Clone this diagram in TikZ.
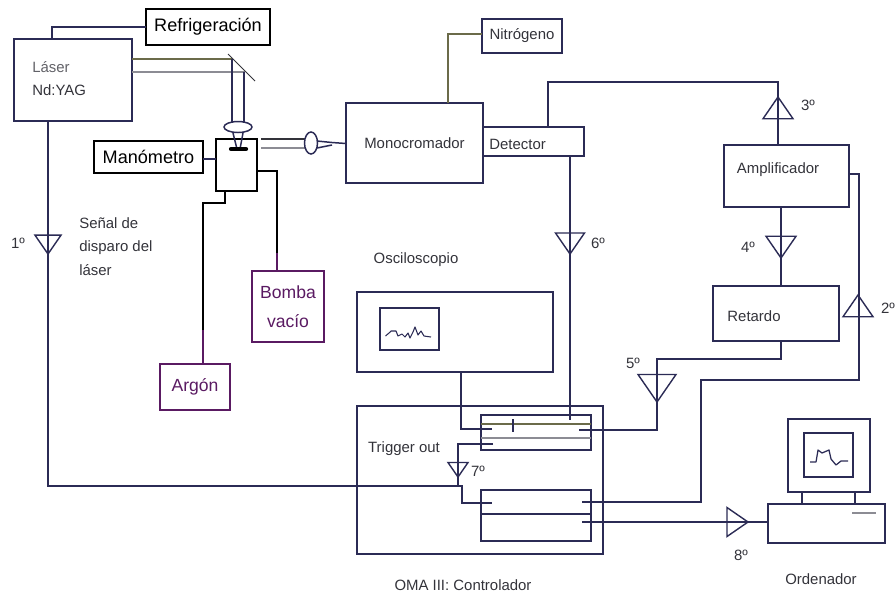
\documentclass[tikz,border=0pt]{standalone}
\usepackage{fontspec}
\setmainfont{Liberation Sans}
\usetikzlibrary{shapes.geometric}
\definecolor{wirecol}{HTML}{2B2B55}
\definecolor{oldwire}{HTML}{6B6B4A}
\definecolor{beamcol}{HTML}{8C8C94}
\definecolor{textcol}{HTML}{33333A}
\definecolor{purplecol}{HTML}{5A1A62}
\tikzset{
  wire/.style={draw=wirecol, line width=0.85pt},
  boxnode/.style 2 args={draw=wirecol, line width=0.85pt, inner sep=0pt, outer sep=0pt,
    text=textcol, font=\fontsize{8.5}{10}\selectfont,
    minimum width=#1*0.02cm, minimum height=#2*0.02cm},
  blackbox/.style={draw=black, text=black, font=\fontsize{10.3}{12}\selectfont},
  gasbox/.style={draw=purplecol, text=purplecol, font=\fontsize{10}{16.5}\selectfont, align=center},
  lbl/.style={inner sep=0pt, text=textcol, font=\fontsize{8.5}{10}\selectfont},
  tridown/.style={draw=wirecol, line width=0.8pt, isosceles triangle, isosceles triangle stretches,
    shape border rotate=270, inner sep=0pt, outer sep=0pt, anchor=apex,
    minimum width=#1*0.02cm, minimum height=#1*0.0145cm},
  triup/.style={tridown=#1, shape border rotate=90},
  triright/.style={tridown=#1, shape border rotate=0}
}
\begin{document}
\begin{tikzpicture}[x=0.02cm,y=-0.02cm]
\useasboundingbox (0,0) rectangle (895,596);
% boxes
\node[boxnode={118}{82}] (laser) at (73,80) {};
\node[boxnode={124}{36}, blackbox] (refrig) at (208,27) {Refrigeración};
\node[boxnode={41}{52}, draw=black] (chamber) at (236.5,165) {};
\node[boxnode={109}{32}, blackbox] (mano) at (148.5,157) {Manómetro};
\node[boxnode={72}{71}, gasbox] (bomba) at (288,306.5) {Bomba\\vacío};
\node[boxnode={70}{46}, gasbox] (argon) at (195,387) {Argón};
\node[boxnode={137}{80}] (mono) at (414.5,143) {Monocromador};
\node[boxnode={80}{34}] (nitro) at (522,36) {Nitrógeno};
\node[boxnode={101}{29}] (detector) at (533.5,141.5) {};
\node[boxnode={125}{62}] (ampli) at (786.5,176) {};
\node[boxnode={126}{55}] (retardo) at (776,313.5) {};
\node[boxnode={196}{80}] (osc) at (455,332) {};
\node[boxnode={59}{42}] (oscscreen) at (409.5,329) {};
\node[boxnode={246}{148}] (oma) at (480,480) {};
\node[boxnode={110}{35}] (omaup) at (536,432.5) {};
\node[boxnode={110}{51}] (omalow) at (536,515.5) {};
\node[boxnode={82}{73}] (monitor) at (829,455.5) {};
\node[boxnode={49}{44}] (pcscreen) at (828.5,455) {};
\node[boxnode={117}{39}] (pc) at (826.5,523.5) {};
% labels
\node[lbl, anchor=west, align=left, text=beamcol!70!black] (lasertxt) at (32,67) {Láser};
\node[lbl, anchor=west] (yagtxt) at (32,90) {Nd:YAG};
\node[lbl, anchor=west] (dettxt) at (489,144) {Detector};
\node[lbl] (amptxt) at (778,170) {Amplificador};
\node[lbl] (rettxt) at (754,316) {Retardo};
\node[lbl, anchor=north west, align=left, font=\fontsize{8.5}{13.4}\selectfont] (senal) at (79,217) {Señal de\\disparo del\\láser};
\node[lbl] (osctxt) at (416,260) {Osciloscopio};
\node[lbl] (trigtxt) at (404,449) {Trigger out};
\node[lbl] (omatxt) at (463,585) {OMA III: Controlador};
\node[lbl] (pctxt) at (821,579) {Ordenador};
% amplifiers
\node[tridown=26] (amp1) at (48,254) {};
\node[triup=30] (amp2) at (858,295) {};
\node[triup=30] (amp3) at (778,97) {};
\node[tridown=30] (amp4) at (781,258) {};
\node[tridown=38] (amp5) at (657,402) {};
\node[tridown=29] (amp6) at (570,254) {};
\node[tridown=20] (amp7) at (458,477) {};
\node[triright=29] (amp8) at (748,522) {};
\node[lbl] (n1) at (18,243) {1º};
\node[lbl] (n2) at (888,308) {2º};
\node[lbl] (n3) at (808,105) {3º};
\node[lbl] (n4) at (748,247) {4º};
\node[lbl] (n5) at (633,363) {5º};
\node[lbl] (n6) at (598,243) {6º};
\node[lbl] (n7) at (478,471) {7º};
\node[lbl] (n8) at (741,555) {8º};
% stubs inside the controller
\coordinate (oscin) at (492,429);
\coordinate (oscout) at (461,372);
\coordinate (trigin) at (493,444);
\coordinate (trigjunc) at (458,486);
\coordinate (lowin) at (492,503);
\coordinate (upout) at (579,430);
\coordinate (lowout) at (582,502);
\coordinate (pcout) at (582,522);
\coordinate (detin) at (570,420);
% connectors
\draw[wire] (laser.north -| 52,0) |- (refrig.west);
\draw[wire] (mano.east |- 0,159) -- (chamber.west |- 0,159);
\draw[wire, draw=black] (chamber.east |- 0,171) -| (bomba.north -| 277,0);
\draw[wire, draw=black] (chamber.south -| 225,0) |- (203,203) -- (argon.north -| 203,0);
\draw[wire, draw=purplecol] (277,253) -- (bomba.north -| 277,0);
\draw[wire, draw=purplecol] (203,330) -- (argon.north -| 203,0);
\draw[wire, draw=oldwire] (mono.north -| 448,0) |- (nitro.west |- 0,34);
\draw[wire] (detector.north -| 548,0) |- (778,82) -- (ampli.north -| 778,0);
\draw[wire] (ampli.east |- 0,174) -| (859,380) -| (701,502) -- (lowout);
\draw[wire] (ampli.south -| 781,0) -- (retardo.north -| 781,0);
\draw[wire] (retardo.south -| 781,0) |- (657,359) |- (upout);
\draw[wire] (detector.south -| 570,0) -- (detin);
\draw[wire] (oscout) |- (oscin);
\draw[wire] (laser.south -| amp1.apex) |- (trigjunc);
\draw[wire] (trigin) -| (trigjunc);
\draw[wire] (trigjunc) -- ++(4,0) |- (lowin);
\draw[wire] (pcout) -- (pc.west |- pcout);
% inside the controller boxes
\draw[wire, draw=oldwire] (omaup.west |- 0,424) -- (omaup.east |- 0,424);
\draw[wire, draw=beamcol] (omaup.west |- 0,438) -- (omaup.east |- 0,438);
\draw[wire] (513,419) -- (513,432);
\draw[wire] (omalow.west |- 0,514) -- (omalow.east |- 0,514);
% optics
\draw[wire, draw=oldwire] (laser.east |- 0,59) -- (232,59);
\draw[wire, draw=beamcol] (laser.east |- 0,72) -- (245,72);
\draw[wire, draw=textcol, line width=0.6pt] (228,54) -- (255,81);
\draw[wire] (232,59) -- (232,123);
\draw[wire] (244,72) -- (244,123);
\draw[wire] (238,127) ellipse (14 and 5.5);
\draw[wire] (233,133) -- (237,149) (243,133) -- (240,149);
\draw[line width=2.4pt, line cap=round, draw=black] (231,149) -- (246,149);
\draw[wire, draw=textcol] (261,139) -- (305,139);
\draw[wire, draw=beamcol] (261,148) -- (305,148);
\draw[wire] (311,143) ellipse (6.5 and 11);
\draw[wire] (317,141) -- (332,142.5) -- (mono.west |- 0,143.5) (317,148) -- (332,145);
% screens
\draw[wirecol, line width=0.6pt, line join=round] (385.5,336) -- (389,333) -- (391,331) -- (396,331) -- (398,336) -- (402,334) -- (405,337) -- (408,333) -- (410,338) -- (413,332) -- (415,327) -- (418,335) -- (421,331) -- (424,336) -- (431,337);
\draw[wirecol, line width=0.7pt, line join=round] (810,462) -- (816,462) -- (818,450) -- (822,453) -- (829,450) -- (831,459) -- (836,465) -- (841,461) -- (848,461);
\draw[wire] (802,492) -- (802,504) (855,492) -- (855,504);
\draw[wire, draw=beamcol] (852,513) -- (876,513);
\end{tikzpicture}
\end{document}
